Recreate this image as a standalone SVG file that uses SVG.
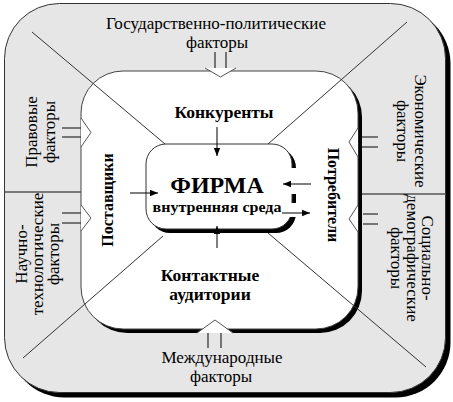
<svg xmlns="http://www.w3.org/2000/svg" width="453" height="402" viewBox="0 0 453 402">
<style>
text{font-family:"Liberation Serif","Times New Roman","DejaVu Serif",serif;fill:#000}
.f{font-size:17px}
.b{font-size:17.5px;font-weight:bold}
.bs{font-size:16px;font-weight:bold}
.m{text-anchor:middle}
.diag{stroke:#333;stroke-width:1;fill:none}
.div{stroke:#555;stroke-width:1.5;fill:none}
.dl{stroke:#444;stroke-width:1.4;fill:none}
.chev{stroke:#555;stroke-width:1;fill:#fff}
.ar{stroke:#000;stroke-width:1;fill:none;marker-end:url(#ah)}
</style>
<defs>
<marker id="ah" viewBox="0 0 10 10" refX="10" refY="5" markerWidth="8" markerHeight="8" markerUnits="userSpaceOnUse" orient="auto">
<path d="M0,1 L10,5 L0,9 Z" fill="#000"/>
</marker>
</defs>
<rect width="453" height="402" fill="#fff"/>
<g id="outer">
<rect x="9.5" y="8.5" width="441" height="389" rx="55" fill="#000"/>
<rect x="4.5" y="3.5" width="441" height="389" rx="55" fill="#e6e6e6" stroke="#333" stroke-width="1"/>
<line class="div" x1="4.5" y1="192" x2="81" y2="192"/>
<line class="div" x1="358" y1="194" x2="445.5" y2="194"/>
</g>
<g id="inner">
<rect x="85" y="75" width="277" height="258" rx="42" fill="#000"/>
<rect x="81" y="71" width="277" height="258" rx="42" fill="#fff" stroke="#444" stroke-width="1"/>
</g>
<g id="connectors">
<line class="diag" x1="32" y1="32" x2="165" y2="144"/>
<line class="diag" x1="407" y1="22" x2="268" y2="144"/>
<line class="diag" x1="426" y1="367" x2="268" y2="233"/>
<line class="diag" x1="23" y1="358" x2="163" y2="236"/>
<line class="dl" x1="215" y1="52" x2="215" y2="68"/>
<line class="dl" x1="226" y1="52" x2="226" y2="68"/>
<path class="chev" d="M205,68 L220.5,77 L236,68"/>
<line class="dl" x1="208" y1="333" x2="208" y2="348"/>
<line class="dl" x1="221" y1="333" x2="221" y2="348"/>
<path class="chev" d="M197,333 L215,320 L233,333" fill="none"/>
<line class="dl" x1="62" y1="128" x2="81" y2="128"/>
<line class="dl" x1="62" y1="137" x2="81" y2="137"/>
<path class="chev" d="M81,118 L91,132.5 L81,147"/>
<line class="dl" x1="62" y1="213" x2="81" y2="213"/>
<line class="dl" x1="62" y1="223" x2="81" y2="223"/>
<path class="chev" d="M81,205 L91,218 L81,231"/>
<line class="dl" x1="362" y1="137" x2="378" y2="137"/>
<line class="dl" x1="362" y1="147" x2="378" y2="147"/>
<path class="chev" d="M358,128 L349,142 L358,157" fill="none"/>
<line class="dl" x1="363" y1="214" x2="378" y2="214"/>
<line class="dl" x1="363" y1="224" x2="378" y2="224"/>
<path class="chev" d="M358,205 L349,219 L358,232" fill="none"/>
</g>
<g id="firm">
<rect x="150" y="148" width="146" height="85" rx="20" fill="#000"/>
<rect x="146" y="144" width="146" height="85" rx="20" fill="#fff" stroke="#333" stroke-width="1"/>
<rect x="289" y="168" width="10" height="26" fill="#fff"/>
<rect x="289" y="203" width="10" height="14" fill="#fff"/>
<text class="m" x="217" y="193" style="font-size:24px;font-weight:bold">ФИРМА</text>
<text class="m" x="217" y="212" style="font-size:14px;font-weight:bold" textLength="129" lengthAdjust="spacingAndGlyphs">внутренняя среда</text>
</g>
<g id="arrows">
<line class="ar" x1="217" y1="127" x2="217" y2="156"/>
<line class="ar" x1="217" y1="248" x2="217" y2="226"/>
<line class="ar" x1="130" y1="193" x2="158" y2="193"/>
<line class="ar" x1="311" y1="184" x2="283" y2="184"/>
<line class="ar" x1="282" y1="213" x2="310" y2="213"/>
</g>
<g id="competitors"><text class="b m" x="224" y="118">Конкуренты</text></g>
<g id="audiences"><text class="b m" x="210" y="281">Контактные</text><text class="b m" x="210" y="300">аудитории</text></g>
<g id="suppliers"><text class="bs m" transform="translate(113,200) rotate(-90)">Поставщики</text></g>
<g id="consumers"><text class="bs m" transform="translate(328,195) rotate(90)">Потребители</text></g>
<g id="political"><text class="f m" x="216" y="29">Государственно-политические</text><text class="f m" x="217" y="48">факторы</text></g>
<g id="international"><text class="f m" x="222" y="363">Международные</text><text class="f m" x="221" y="382">факторы</text></g>
<g id="legal"><text class="f m" transform="translate(37,132) rotate(-90)"><tspan x="0" y="0">Правовые</tspan><tspan x="0" y="18">факторы</tspan></text></g>
<g id="scientific"><text class="f m" transform="translate(27,254) rotate(-90)"><tspan x="0" y="0">Научно-</tspan><tspan x="0" y="16">технологические</tspan><tspan x="0" y="32">факторы</tspan></text></g>
<g id="economic"><text class="f m" transform="translate(415,131) rotate(90)"><tspan x="0" y="0">Экономические</tspan><tspan x="0" y="18">факторы</tspan></text></g>
<g id="social"><text class="f m" transform="translate(422,258) rotate(90)"><tspan x="0" y="0">Социально-</tspan><tspan x="0" y="15.5">демографические</tspan><tspan x="0" y="31">факторы</tspan></text></g>
</svg>
